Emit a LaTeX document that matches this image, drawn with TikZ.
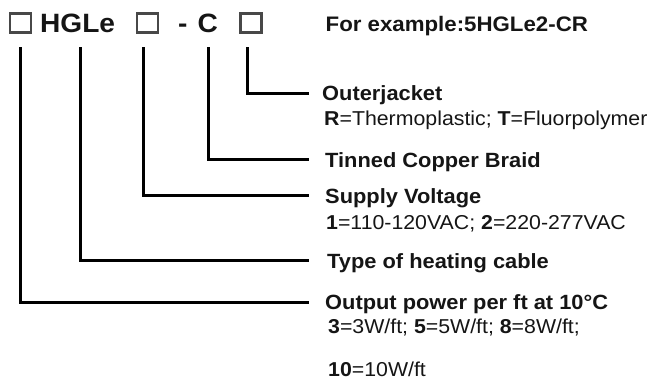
\documentclass[tikz,border=0pt]{standalone}
\usepackage{fontspec}
\setmainfont{Liberation Sans}[FakeStretch=1.06]
\definecolor{sqgray}{HTML}{484848}
\definecolor{txt}{HTML}{151515}
\begin{document}
\begin{tikzpicture}[x=1pt,y=-1pt,
  sq/.style={draw=sqgray,line width=2.2pt,minimum width=21pt,minimum height=19pt,inner sep=0pt},
  conn/.style={line width=3pt,line join=miter,black},
  hd/.style={font=\fontsize{20.6}{23}\selectfont\bfseries,text=txt,anchor=base west,inner sep=0pt},
  sub/.style={font=\fontsize{20.1}{23}\selectfont,text=txt,anchor=base west,inner sep=0pt},
  topt/.style={font=\fontsize{26.5}{29}\selectfont\bfseries,text=txt,anchor=base west,inner sep=0pt}]
\useasboundingbox (0,0) rectangle (651,383);
% header
\node[sq] (s1) at (20.5,23) {};
\node[topt] (hgle) at (40,32.5) {HGLe};
\node[sq] (s2) at (147.5,23) {};
\node[topt] (dash) at (178,32.5) {-};
\node[topt] (cc) at (197.5,32.5) {C};
\node[sq] (s3) at (251,23) {};
\node[hd,font=\fontsize{21}{23}\selectfont\bfseries] (ex) at (325.5,31) {For example:5HGLe2-CR};
% labels
\node[hd] (l1) at (322,100) {Outerjacket};
\node[sub] (d1) at (324,125) {\textbf{R}=Thermoplastic; \textbf{T}=Fluorpolymer};
\node[hd] (l2) at (325,167) {Tinned Copper Braid};
\node[hd] (l3) at (325,203) {Supply Voltage};
\node[sub] (d3) at (326,229) {\textbf{1}=110-120VAC; \textbf{2}=220-277VAC};
\node[hd] (l4) at (327,268) {Type of heating cable};
\node[hd] (l5) at (325,309) {Output power per ft at 10°C};
\node[sub] (d5) at (328,333) {\textbf{3}=3W/ft; \textbf{5}=5W/ft; \textbf{8}=8W/ft;};
\node[sub] (d5b) at (328,376) {\textbf{10}=10W/ft};
% connector ends
\coordinate (a1) at (20,47);
\coordinate (a2) at (80,47);
\coordinate (a3) at (143,47);
\coordinate (a4) at (208,47);
\coordinate (a5) at (247,47);
\coordinate (e1) at (309,93);
\coordinate (e2) at (309,159);
\coordinate (e3) at (309,195);
\coordinate (e4) at (309,260);
\coordinate (e5) at (309,302);
\draw[conn] (a5) |- (e1);
\draw[conn] (a4) |- (e2);
\draw[conn] (a3) |- (e3);
\draw[conn] (a2) |- (e4);
\draw[conn] (a1) |- (e5);
\end{tikzpicture}
\end{document}
